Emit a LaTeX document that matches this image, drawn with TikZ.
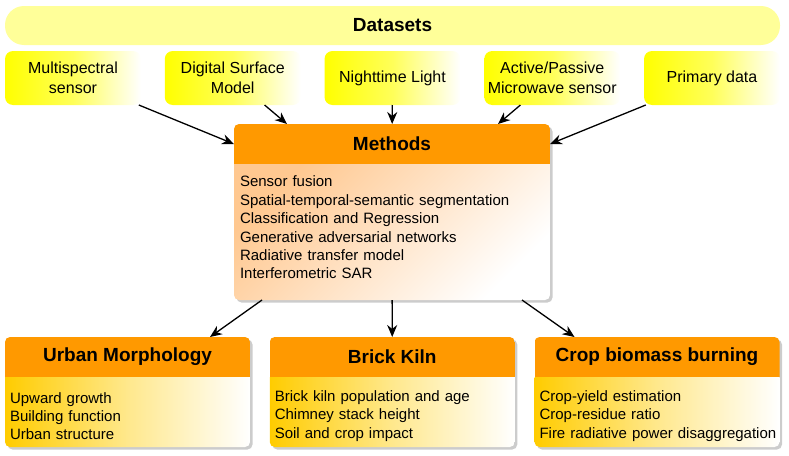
\documentclass[tikz,border=0pt]{standalone}
\usepackage{fontspec}
\setmainfont{Liberation Sans}
\usetikzlibrary{arrows.meta,positioning,backgrounds}
\definecolor{DataBar}{HTML}{FFFF99}
\definecolor{HeadOrange}{HTML}{FF9900}
\definecolor{MethodPeach}{HTML}{FFC890}
\definecolor{TopicGold}{HTML}{FFCC00}
% header + body panel: shadow, orange header, shaded body
\newcommand{\panelfill}[3]{%
  \begin{scope}[on background layer]
    \fill[black,opacity=0.2,rounded corners=5pt] ([shift={(2.5pt,-2.5pt)}]#1.north west) rectangle ([shift={(2.5pt,-2.5pt)}]#2.south east);
    \begin{scope}
      \clip[rounded corners=5pt] (#1.north west) rectangle (#2.south east);
      \fill[HeadOrange] (#1.north west) rectangle (#1.south east);
      \shade[#3] (#2.north west) rectangle (#2.south east);
    \end{scope}
  \end{scope}}

\begin{document}
\begin{tikzpicture}[x=1pt,y=-1pt,>={Stealth[length=12pt,width=10pt]},
  every node/.style={outer sep=0pt},
  bar/.style={fill=DataBar,rounded corners=19pt,minimum width=775pt,minimum height=39pt,font=\bfseries\fontsize{19}{22}\selectfont},
  dsbox/.style={rounded corners=8pt,left color=yellow,right color=white,middle color=yellow!65!white,minimum width=136pt,minimum height=54pt,align=center,font=\fontsize{16}{19.5}\selectfont},
  head/.style={minimum height=40pt,font=\bfseries\fontsize{19}{22}\selectfont},
  list/.style={align=left,font=\fontsize{15}{18.4}\selectfont},
  topic/.style={list,below=0pt of #1,minimum width=245pt,minimum height=70pt,text width=235pt,inner xsep=5pt},
  link/.style={->,line width=1.3pt}]
  \useasboundingbox (0,0) rectangle (789,455);

  \node[bar] (data) at (392.5,25.5) {Datasets};
  \node[dsbox] (ms) at (73,78) {Multispectral\\sensor};
  \node[dsbox,right=23.75pt of ms] (dsm) {Digital Surface\\Model};
  \node[dsbox,right=23.75pt of dsm] (ntl) {Nighttime Light};
  \node[dsbox,right=23.75pt of ntl] (apm) {Active/Passive\\Microwave sensor};
  \node[dsbox,right=23.75pt of apm] (prim) {Primary data};

  \node[head,minimum width=316pt] (mhead) at (392,144) {Methods};
  \node[list,below=0pt of mhead,minimum width=316pt,minimum height=136pt,text width=304pt,inner xsep=6pt] (mbody)
    {Sensor fusion\\Spatial-temporal-semantic segmentation\\Classification and Regression\\Generative adversarial networks\\Radiative transfer model\\Interferometric SAR\rule[-9pt]{0pt}{9pt}};

  \node[head,minimum width=245pt] (uhead) at (127.5,357) {Urban Morphology};
  \node[head,minimum width=245pt,right=19.75pt of uhead] (bhead) {Brick Kiln};
  \node[head,minimum width=245pt,right=19.75pt of bhead] (chead) {Crop biomass burning};
  \node[topic=uhead] (ubody) {\rule{0pt}{19pt}Upward growth\\Building function\\Urban structure};
  \node[topic=bhead] (bbody) {\rule{0pt}{19pt}Brick kiln population and age\\Chimney stack height\\Soil and crop impact};
  \node[topic=chead] (cbody) {\rule{0pt}{19pt}Crop-yield estimation\\Crop-residue ratio\\\mbox{Fire radiative power disaggregation}};

  \panelfill{mhead}{mbody}{top color=MethodPeach,bottom color=white,shading angle=45}
  \panelfill{uhead}{ubody}{left color=TopicGold,right color=white,middle color=TopicGold!45!white}
  \panelfill{bhead}{bbody}{left color=TopicGold,right color=white,middle color=TopicGold!45!white}
  \panelfill{chead}{cbody}{left color=TopicGold,right color=white,middle color=TopicGold!45!white}

  % datasets into methods
  \draw[link] (ms) -- (mhead.west);
  \draw[link] (dsm) -- ([xshift=53pt]mhead.north west);
  \draw[link] (ntl) -- (mhead);
  \draw[link] (apm) -- ([xshift=-52pt]mhead.north east);
  \draw[link] (prim) -- (mhead.east);
  % methods into topics
  \draw[link] ([xshift=28pt]mbody.south west) -- ([xshift=-40pt]uhead.north east);
  \draw[link] (mbody) -- (bhead);
  \draw[link] ([xshift=-28pt]mbody.south east) -- ([xshift=40pt]chead.north west);
\end{tikzpicture}
\end{document}
